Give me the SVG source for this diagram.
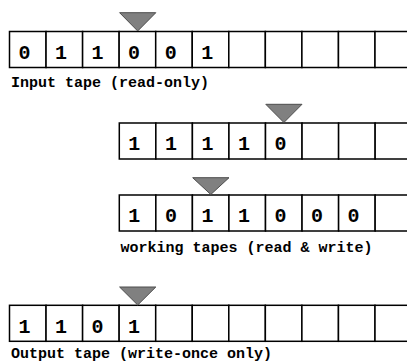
<svg xmlns="http://www.w3.org/2000/svg" width="407" height="362" viewBox="0 0 407 362">
<style>
.cell{fill:#fff;stroke:#000;stroke-width:1.5}
.d{font-family:"Liberation Mono","Courier New",monospace;font-weight:bold;font-size:20px;fill:#000}
.lbl{font-family:"Liberation Mono","Courier New",monospace;font-weight:bold;font-size:15px;fill:#000}
.head{fill:#808080;stroke:#4d4d4d;stroke-width:1}
</style>
<rect width="407" height="362" fill="#fff"/>
<defs>
<g id="c"><rect class="cell" x="0" y="0" width="36.55" height="36"/></g>
</defs>
<g id="input-tape">
<use href="#c" x="9.5" y="31.5"/><use href="#c" x="46.05" y="31.5"/><use href="#c" x="82.6" y="31.5"/><use href="#c" x="119.15" y="31.5"/><use href="#c" x="155.7" y="31.5"/><use href="#c" x="192.25" y="31.5"/><use href="#c" x="228.8" y="31.5"/><use href="#c" x="265.35" y="31.5"/><use href="#c" x="301.9" y="31.5"/><use href="#c" x="338.45" y="31.5"/><use href="#c" x="375" y="31.5"/>
<text class="d" x="18.5" y="59.3">0</text><text class="d" x="55" y="59.3">1</text><text class="d" x="91.6" y="59.3">1</text><text class="d" x="128.1" y="59.3">0</text><text class="d" x="164.7" y="59.3">0</text><text class="d" x="201.2" y="59.3">1</text>
<text class="lbl" x="11" y="86.5">Input tape (read-only)</text>
</g>
<g id="input-head"><polygon class="head" points="119.6,12.7 155.8,12.7 137.7,31"/></g>
<g id="work-tape-1">
<use href="#c" x="119.3" y="123"/><use href="#c" x="155.85" y="123"/><use href="#c" x="192.4" y="123"/><use href="#c" x="228.95" y="123"/><use href="#c" x="265.5" y="123"/><use href="#c" x="302.05" y="123"/><use href="#c" x="338.6" y="123"/><use href="#c" x="375.15" y="123"/>
<text class="d" x="128.3" y="150">1</text><text class="d" x="164.9" y="150">1</text><text class="d" x="201.4" y="150">1</text><text class="d" x="238" y="150">1</text><text class="d" x="274.5" y="150">0</text>
</g>
<g id="work-head-1"><polygon class="head" points="265.8,104.3 302,104.3 283.9,122.5"/></g>
<g id="work-tape-2">
<use href="#c" x="119.3" y="195"/><use href="#c" x="155.85" y="195"/><use href="#c" x="192.4" y="195"/><use href="#c" x="228.95" y="195"/><use href="#c" x="265.5" y="195"/><use href="#c" x="302.05" y="195"/><use href="#c" x="338.6" y="195"/><use href="#c" x="375.15" y="195"/>
<text class="d" x="128.3" y="222">1</text><text class="d" x="164.9" y="222">0</text><text class="d" x="201.4" y="222">1</text><text class="d" x="238" y="222">1</text><text class="d" x="274.5" y="222">0</text><text class="d" x="311" y="222">0</text><text class="d" x="347.6" y="222">0</text>
<text class="lbl" x="120.5" y="252">working tapes (read &amp; write)</text>
</g>
<g id="work-head-2"><polygon class="head" points="192.7,177.7 229,177.7 210.8,194.5"/></g>
<g id="output-tape">
<use href="#c" x="9.5" y="305.3"/><use href="#c" x="46.05" y="305.3"/><use href="#c" x="82.6" y="305.3"/><use href="#c" x="119.15" y="305.3"/><use href="#c" x="155.7" y="305.3"/><use href="#c" x="192.25" y="305.3"/><use href="#c" x="228.8" y="305.3"/><use href="#c" x="265.35" y="305.3"/><use href="#c" x="301.9" y="305.3"/><use href="#c" x="338.45" y="305.3"/><use href="#c" x="375" y="305.3"/>
<text class="d" x="18.5" y="333">1</text><text class="d" x="55" y="333">1</text><text class="d" x="91.6" y="333">0</text><text class="d" x="128.1" y="333">1</text>
<text class="lbl" x="11" y="357.5">Output tape (write-once only)</text>
</g>
<g id="output-head"><polygon class="head" points="119.6,287 155.8,287 137.7,305"/></g>
<g id="connectors"/>
</svg>
